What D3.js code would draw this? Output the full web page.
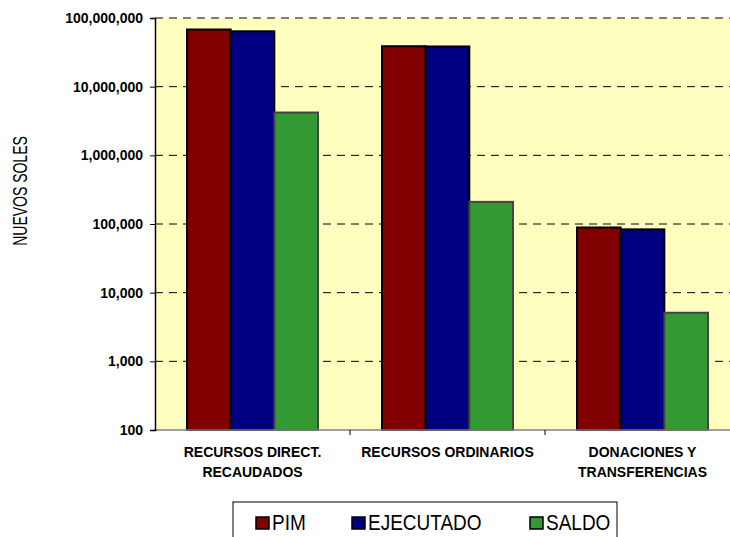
<!DOCTYPE html>
<html>
<head>
<meta charset="utf-8">
<script src="https://cdn.jsdelivr.net/npm/d3@7"></script>
<style>
  body { margin: 0; background: #fff; }
  svg { display: block; font-family: Arial, "Liberation Sans", sans-serif; }
</style>
</head>
<body>
<div id="chart"></div>
<script>
// data
var categories = ["RECURSOS DIRECT. RECAUDADOS", "RECURSOS ORDINARIOS", "DONACIONES Y TRANSFERENCIAS"];
var categoryLines = [["RECURSOS DIRECT.", "RECAUDADOS"], ["RECURSOS ORDINARIOS"], ["DONACIONES Y", "TRANSFERENCIAS"]];
var seriesNames = ["PIM", "EJECUTADO", "SALDO"];
var pim = [68000000, 38800000, 89000];
var ejecutado = [64000000, 38500000, 83500];
var saldo = [4200000, 210000, 5100];
var tickValues = [100, 1000, 10000, 100000, 1000000, 10000000, 100000000];

var fills = {"PIM": "#800000", "EJECUTADO": "#000080", "SALDO": "#339933"};
var strokes = {"PIM": "#000", "EJECUTADO": "#000", "SALDO": "#444"};

// set the dimensions of the graph
var W = 730, H = 537;
var margin = {top: 18, left: 155, bottom: 107},
  plotRight = 740,
  bottomY = H - margin.bottom;

var svg = d3.select("#chart")
  .append("svg")
    .attr("width", W)
    .attr("height", H);

// scales
var y = d3.scaleLog()
  .domain([100, 100000000])
  .range([bottomY, margin.top]);

var x0 = d3.scaleBand()
  .domain(categories)
  .range([margin.left, plotRight]);

var gap = 32;
var x1 = d3.scaleBand()
  .domain(seriesNames)
  .range([gap, x0.bandwidth() - gap]);

// plot background
svg.append("rect")
  .attr("x", margin.left)
  .attr("y", margin.top)
  .attr("width", plotRight - margin.left)
  .attr("height", bottomY - margin.top)
  .style("fill", "#FFFFC0");

// dashed gridlines
svg.selectAll(".grid")
  .data(tickValues.slice(1))
  .enter()
  .append("line")
    .attr("x1", margin.left)
    .attr("x2", plotRight)
    .attr("y1", function(d) { return y(d); })
    .attr("y2", function(d) { return y(d); })
    .style("stroke", "#000")
    .style("stroke-dasharray", "8,6")
    .style("stroke-width", 1);

// bars
var rows = categories.map(function(c, i) {
  return {cat: c, values: [pim[i], ejecutado[i], saldo[i]]};
});

var groups = svg.selectAll(".group")
  .data(rows)
  .enter()
  .append("g")
    .attr("transform", function(d) { return "translate(" + x0(d.cat) + ",0)"; });

groups.selectAll("rect")
  .data(function(d) { return d.values.map(function(v, j) { return {name: seriesNames[j], value: v}; }); })
  .enter()
  .append("rect")
    .attr("x", function(d) { return x1(d.name); })
    .attr("y", function(d) { return y(d.value); })
    .attr("width", x1.bandwidth())
    .attr("height", function(d) { return bottomY - y(d.value); })
    .style("fill", function(d) { return fills[d.name]; })
    .style("stroke", function(d) { return strokes[d.name]; })
    .style("stroke-width", 2);

// x axis line + category ticks
svg.append("line")
  .attr("x1", margin.left).attr("x2", plotRight)
  .attr("y1", bottomY).attr("y2", bottomY)
  .style("stroke", "#808080")
  .style("stroke-width", 1.5);

svg.selectAll(".ctick")
  .data(categories.slice(1))
  .enter()
  .append("line")
    .attr("x1", function(d) { return x0(d); })
    .attr("x2", function(d) { return x0(d); })
    .attr("y1", bottomY)
    .attr("y2", bottomY + 5)
    .style("stroke", "#000");

// category labels (glyphs a bit taller than wide, like the original)
svg.selectAll(".clabel")
  .data(categories)
  .enter()
  .append("text")
    .attr("transform", function(d) { return "translate(" + (x0(d) + x0.bandwidth() / 2) + ",457) scale(1,1.1)"; })
    .style("text-anchor", "middle")
    .style("font-size", "14px")
    .style("font-weight", "bold")
    .style("fill", "#000")
    .each(function(d, i) {
      var t = d3.select(this);
      categoryLines[i].forEach(function(line, k) {
        t.append("tspan")
          .attr("x", 0)
          .attr("dy", k === 0 ? 0 : 18.2)
          .text(line);
      });
    });

// y axis
var yAxis = svg.append("g")
  .attr("transform", "translate(" + margin.left + ",0)")
  .call(d3.axisLeft(y).tickValues(tickValues).tickFormat(d3.format(",")).tickSize(5).tickPadding(7));

yAxis.select(".domain").style("stroke", "#000").style("stroke-width", 1.5);
yAxis.selectAll(".tick line").style("stroke", "#000");
yAxis.selectAll(".tick text")
  .style("font-family", "Arial, 'Liberation Sans', sans-serif")
  .style("font-size", "14px")
  .style("font-weight", "bold")
  .style("fill", "#000");

// y axis title
svg.append("text")
  .attr("transform", "translate(27,191) rotate(-90) scale(1,1.45)")
  .style("text-anchor", "middle")
  .style("font-size", "14px")
  .style("fill", "#000")
  .text("NUEVOS SOLES");

// legend
svg.append("rect")
  .attr("x", 233)
  .attr("y", 502)
  .attr("width", 384)
  .attr("height", 50)
  .style("fill", "#fff")
  .style("stroke", "#000")
  .style("stroke-width", 1);

var legendX = [256, 352, 530];
var legend = svg.selectAll(".legend")
  .data(seriesNames)
  .enter()
  .append("g")
    .attr("transform", function(d, i) { return "translate(" + legendX[i] + ",517)"; });

legend.append("rect")
  .attr("width", 13)
  .attr("height", 12)
  .style("fill", function(d) { return fills[d]; })
  .style("stroke", "#000")
  .style("stroke-width", 1.5);

legend.append("text")
  .attr("transform", "translate(16,13) scale(1,1.12)")
  .style("font-size", "19px")
  .style("fill", "#000")
  .text(function(d) { return d; });
</script>
</body>
</html>
